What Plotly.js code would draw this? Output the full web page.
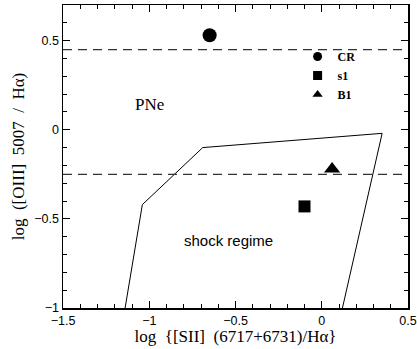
<!DOCTYPE html>
<html><head><meta charset="utf-8">
<script src="https://cdn.plot.ly/plotly-3.0.1.min.js"></script>
<style>html,body{margin:0;padding:0;background:#fff}#plot{width:417px;height:349px}</style>
</head><body><div id="plot"></div>
<script>
// Objects
const objNames = ["CR", "s1", "B1"];
const objX = [-0.65, -0.10, 0.06];
const objY = [0.53, -0.43, -0.22];
const objSymbols = ["circle", "square", "triangle-up"];
// Shock-regime boundary
const shockX = [-1.14, -1.04, -0.69, 0.35, 0.12];
const shockY = [-1.00, -0.42, -0.10, -0.02, -1.00];
// Dashed PNe boundaries
const dashLevels = [0.45, -0.25];
const xRange = [-1.5, 0.5];
const yRange = [-1.0, 0.7];
// Region labels
const regionLabels = [
  {text: "PNe", x: -1.0, y: 0.14, font: "Liberation Serif", size: 17},
  {text: "shock regime", x: -0.54, y: -0.62, font: "Liberation Sans", size: 15}
];

const traces = [];
traces.push({x: shockX, y: shockY, mode: "lines", line: {color: "#000", width: 1}, showlegend: false, hoverinfo: "skip"});
dashLevels.forEach(v => traces.push({x: xRange, y: [v, v], mode: "lines", line: {color: "#333", width: 1.2, dash: "9px,6px"}, showlegend: false, hoverinfo: "skip"}));
const bigSizes = [14, 12, 14];
objNames.forEach((n, i) => traces.push({
  x: [objX[i]], y: [objY[i]], mode: "markers", name: n, showlegend: false,
  marker: {symbol: objSymbols[i], size: bigSizes[i], color: "#000"}
}));
// legend entries with smaller symbols
objNames.forEach((n, i) => traces.push({
  x: [null], y: [null], mode: "markers", name: n,
  marker: {symbol: objSymbols[i], size: 9, color: "#000"}
}));

const axCommon = {
  showgrid: false, zeroline: false, showline: true, linecolor: "#000", linewidth: 1.5,
  mirror: "allticks", ticks: "inside", ticklen: 7, tickwidth: 1, tickcolor: "#000",
  tickfont: {family: "Liberation Sans", size: 12.5, color: "#000"}
};
const sp = "\u00a0\u00a0";

const layout = {
  width: 417, height: 349,
  margin: {l: 63, r: 9, t: 5, b: 41},
  paper_bgcolor: "#fff", plot_bgcolor: "#fff",
  xaxis: Object.assign({}, axCommon, {
    range: xRange, dtick: 0.5, tick0: -1.5,
    minor: {dtick: 0.1, ticks: "inside", ticklen: 4, tickcolor: "#000"},
    title: {text: "log" + sp + "{[SII]" + sp + "(6717+6731)/Hα}", font: {family: "Liberation Serif", size: 17, color: "#000"}, standoff: 3}
  }),
  yaxis: Object.assign({}, axCommon, {
    range: yRange, dtick: 0.5, tick0: -1,
    minor: {dtick: 0.1, ticks: "inside", ticklen: 4, tickcolor: "#000"},
    title: {text: "log" + sp + "([OIII]" + sp + "5007" + sp + "/" + sp + "Hα)", font: {family: "Liberation Serif", size: 17, color: "#000"}, standoff: 5}
  }),
  showlegend: true,
  legend: {x: 0.68, y: 0.878, xanchor: "left", yanchor: "top", bgcolor: "rgba(0,0,0,0)",
    font: {family: "Liberation Serif", size: 12, color: "#000", weight: "bold"}, tracegroupgap: 0, itemwidth: 30},
  annotations: regionLabels.map(l => ({x: l.x, y: l.y, xref: "x", yref: "y", text: l.text, showarrow: false,
    font: {family: l.font, size: l.size, color: "#000"}}))
};

Plotly.newPlot("plot", traces, layout, {staticPlot: true, displayModeBar: false});
</script></body></html>
